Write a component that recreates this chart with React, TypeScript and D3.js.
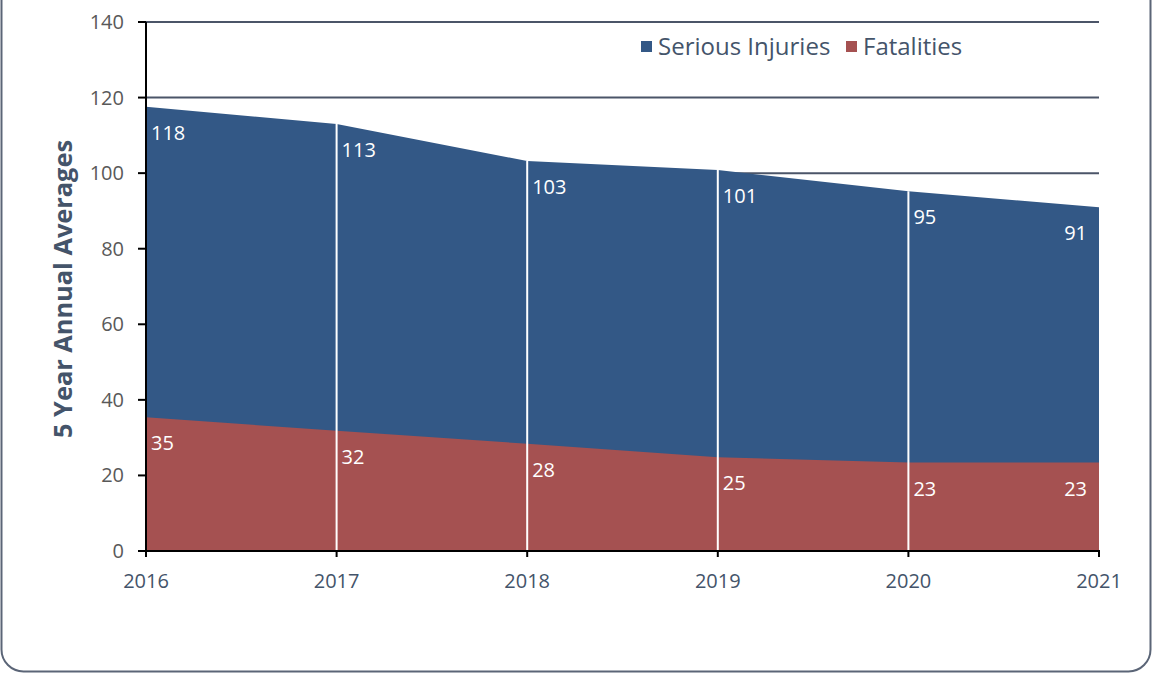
import React from 'react';
import * as d3 from 'd3';

const years = [2016, 2017, 2018, 2019, 2020, 2021];
const seriousInjuries = [117.6, 113, 103.2, 100.8, 95.2, 91];
const fatalities = [35.4, 31.8, 28.4, 24.8, 23.4, 23.4];
const yTicks = [0, 20, 40, 60, 80, 100, 120, 140];
const seriesNames = ['Serious Injuries', 'Fatalities'];
const seriesColors = ['#335886', '#a55151'];

const W = 1152;
const H = 673;
const font = '"Open Sans", "Noto Sans", sans-serif';

const App = () => {
  const x = d3.scaleLinear().domain([2016, 2021]).range([146, 1099]);
  const y = d3.scaleLinear().domain([0, 140]).range([551, 22]);
  const fmt = d3.format('.0f');

  const area = d3.area<number>()
    .x((d, i) => x(years[i]))
    .y0(y(0))
    .y1((d) => y(d));

  const series = [seriousInjuries, fatalities];

  return (
    <div style={{ position: 'absolute', left: 0, top: 0 }}>
      <svg width={W} height={H} style={{ display: 'block' }}>
        <rect x={1.5} y={-40} width={W - 3} height={H + 38.5} rx={22}
          fill="white" stroke="#5b6577" strokeWidth={2} />

        {/* gridlines, behind the areas */}
        {yTicks.filter((t) => t > 0).map((t) => (
          <line key={t} x1={x(2016)} x2={x(2021)} y1={y(t)} y2={y(t)}
            stroke="#4b5568" strokeWidth={2} />
        ))}

        {series.map((s, i) => (
          <path key={i} d={area(s) || ''} fill={seriesColors[i]} />
        ))}

        {/* drop lines */}
        {years.slice(1, -1).map((yr, i) => (
          <line key={yr} x1={x(yr)} x2={x(yr)} y1={y(seriousInjuries[i + 1])} y2={y(0)}
            stroke="white" strokeWidth={2} />
        ))}

        {/* data labels */}
        {series.map((s, si) => s.map((v, i) => {
          const last = i === years.length - 1;
          return (
            <text key={`${si}-${i}`}
              x={last ? x(years[i]) - 12 : x(years[i]) + 5}
              y={y(v) + 33}
              textAnchor={last ? 'end' : 'start'}
              fill="white" fontSize={20} fontFamily={font}>
              {fmt(v)}
            </text>
          );
        }))}

        {/* y axis */}
        <line x1={x(2016)} x2={x(2016)} y1={y(140)} y2={y(0) + 6} stroke="black" strokeWidth={2} />
        {yTicks.map((t) => (
          <g key={t}>
            <line x1={x(2016) - 8} x2={x(2016)} y1={y(t)} y2={y(t)} stroke="black" strokeWidth={2} />
            <text x={124} y={y(t)} dy="0.35em" textAnchor="end" fill="#595959"
              fontSize={20} fontFamily={font}>{t}</text>
          </g>
        ))}

        {/* x axis */}
        <line x1={x(2016) - 8} x2={x(2021) + 1} y1={y(0)} y2={y(0)} stroke="black" strokeWidth={2} />
        {years.map((yr) => (
          <g key={yr}>
            <line x1={x(yr)} x2={x(yr)} y1={y(0)} y2={y(0) + 6} stroke="black" strokeWidth={2} />
            <text x={x(yr)} y={588} textAnchor="middle" fill="#44546a"
              fontSize={20} fontFamily={font}>{yr}</text>
          </g>
        ))}

        <text transform="translate(72, 289) rotate(-90)" textAnchor="middle"
          fill="#44546a" fontSize={25} fontWeight="bold" fontFamily={font}
          textLength={298} lengthAdjust="spacingAndGlyphs">5 Year Annual Averages</text>

        {/* legend */}
        <g fontFamily={font} fontSize={24} fill="#44546a">
          <rect x={641} y={41} width={11} height={11} fill={seriesColors[0]} />
          <text x={658} y={55}>{seriesNames[0]}</text>
          <rect x={846} y={41} width={11} height={11} fill={seriesColors[1]} />
          <text x={863} y={55}>{seriesNames[1]}</text>
        </g>
      </svg>
    </div>
  );
};

export default App;
